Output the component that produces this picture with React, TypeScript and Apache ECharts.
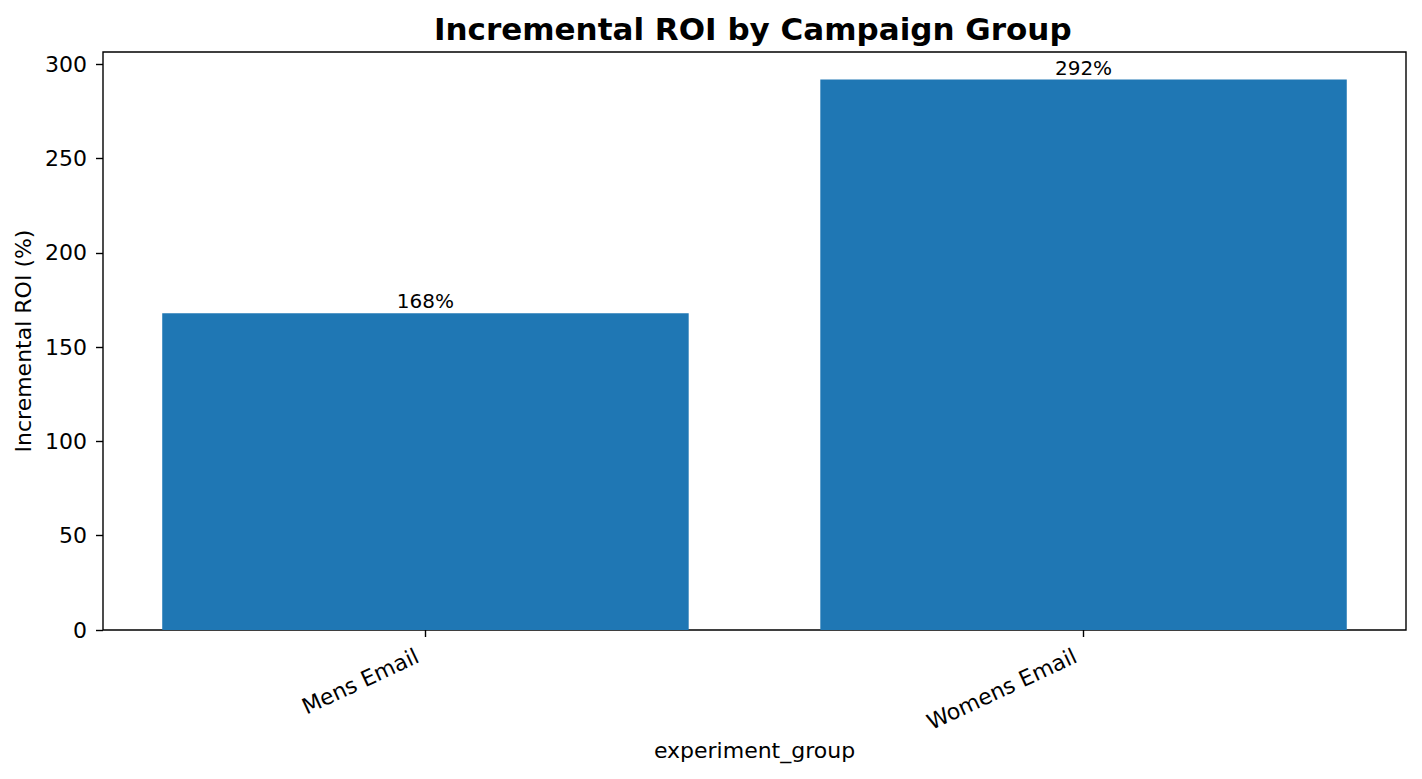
import React, { useEffect, useRef } from "react";
import * as echarts from "echarts";

const categories = ["Mens Email", "Womens Email"];
const roiValues = [168, 292];
const yTicks = [0, 50, 100, 150, 200, 250, 300];

const FONT = "DejaVu Sans";

// bar positions 0..n-1, as matplotlib places them
const positions = categories.map((_, i) => i);

const App: React.FC = () => {
  const chartRef = useRef<HTMLDivElement>(null);

  useEffect(() => {
    if (!chartRef.current) return;

    const myChart = echarts.init(chartRef.current, undefined, { renderer: "svg" });

    const plotWidth = 1422 - 103 - 16;
    const xMin = -0.4 - 0.05 * (categories.length - 0.2);
    const xMax = categories.length - 1 + 0.4 + 0.05 * (categories.length - 0.2);
    const barPx = (0.8 * plotWidth) / (xMax - xMin);

    const option = {
      animation: false,
      backgroundColor: "#ffffff",
      textStyle: { fontFamily: FONT },
      title: {
        text: "Incremental ROI by Campaign Group",
        // centred over the plot area, not the page
        left: 429,
        top: 8,
        textStyle: { fontFamily: FONT, fontSize: 31, fontWeight: "bold", color: "#000" },
      },
      grid: {
        left: 103,
        right: 16,
        top: 52,
        bottom: 149,
        show: true,
        borderColor: "#000",
        borderWidth: 1.4,
        backgroundColor: "transparent",
      },
      xAxis: {
        type: "value",
        min: xMin,
        max: xMax,
        name: "experiment_group",
        nameLocation: "middle",
        nameGap: 108,
        nameTextStyle: { fontFamily: FONT, fontSize: 22, color: "#000" },
        splitLine: { show: false },
        axisLine: { show: false, onZero: false },
        axisTick: {
          show: true,
          length: 7,
          customValues: positions,
          lineStyle: { color: "#000", width: 1.4 },
        },
        axisLabel: {
          customValues: positions,
          formatter: (v: number) => categories[Math.round(v)] ?? "",
          rotate: 25,
          margin: 21,
          padding: [0, 9, 0, 0],
          fontFamily: FONT,
          fontSize: 22,
          color: "#000",
        },
      },
      yAxis: {
        type: "value",
        min: 0,
        max: Math.max(...roiValues) * 1.05,
        name: "Incremental ROI (%)",
        nameLocation: "middle",
        nameGap: 69,
        nameTextStyle: { fontFamily: FONT, fontSize: 22, color: "#000" },
        splitLine: { show: false },
        axisLine: { show: false, onZero: false },
        axisTick: {
          show: true,
          length: 7,
          customValues: yTicks,
          lineStyle: { color: "#000", width: 1.4 },
        },
        axisLabel: {
          customValues: yTicks,
          margin: 16,
          fontFamily: FONT,
          fontSize: 22,
          color: "#000",
        },
      },
      series: [
        {
          type: "bar",
          data: roiValues.map((v, i) => [positions[i], v]),
          barWidth: barPx,
          itemStyle: { color: "#1f77b4" },
          label: {
            show: true,
            position: "top",
            distance: 2,
            formatter: (p: any) => `${p.value[1]}%`,
            fontFamily: FONT,
            fontSize: 20,
            color: "#000",
          },
        },
      ],
    };

    myChart.setOption(option);

    return () => {
      myChart.dispose();
    };
  }, []);

  return (
    <div
      ref={chartRef}
      style={{ position: "absolute", left: 0, top: 0, width: "1422px", height: "779px" }}
    />
  );
};

export default App;
